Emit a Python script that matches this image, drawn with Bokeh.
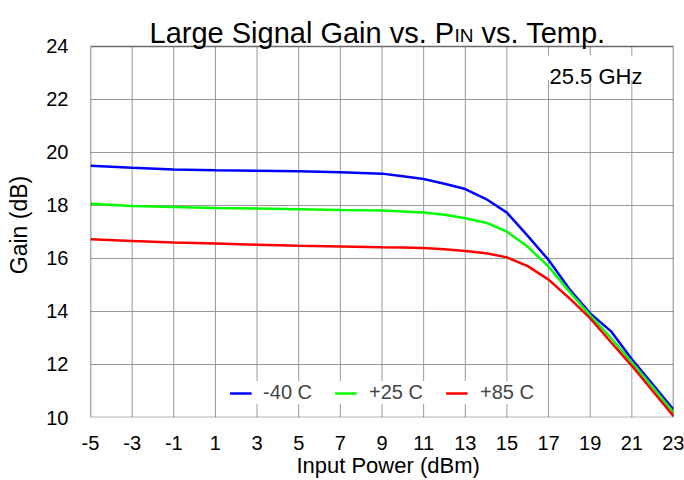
from bokeh.plotting import figure
from bokeh.models import Label, BoxAnnotation, Legend, LegendItem, FixedTicker, Range1d
from bokeh.embed import file_html
from bokeh.resources import INLINE

# ---- data ----
pin_dbm = [-5, -3, -1, 1, 3, 5, 7, 9, 10, 11, 12, 13, 14, 15, 16, 17, 18, 19, 20, 21, 22, 23]
gain_m40 = [19.50, 19.42, 19.36, 19.33, 19.31, 19.29, 19.25, 19.20, 19.10, 19.00, 18.82, 18.62,
            18.24, 17.73, 16.85, 15.94, 14.85, 13.93, 13.25, 12.20, 11.25, 10.30]
gain_p25 = [18.06, 17.98, 17.94, 17.90, 17.88, 17.86, 17.83, 17.81, 17.77, 17.73, 17.65, 17.52,
            17.35, 17.01, 16.44, 15.69, 14.75, 13.85, 13.00, 12.08, 11.15, 10.18]
gain_p85 = [16.72, 16.66, 16.60, 16.56, 16.52, 16.48, 16.45, 16.42, 16.41, 16.39, 16.35, 16.28,
            16.20, 16.04, 15.71, 15.20, 14.50, 13.74, 12.84, 11.95, 11.00, 10.05]
series_labels = ["-40 C", "+25 C", "+85 C"]
x_ticks = [-5, -3, -1, 1, 3, 5, 7, 9, 11, 13, 15, 17, 19, 21, 23]
y_ticks = [10, 12, 14, 16, 18, 20, 22, 24]

FONT = "Liberation Sans"
NBSP = "\u00a0"

X_MIN, X_MAX = -5, 23
Y_MIN, Y_MAX = 10, 24
FRAME_H = 418          # px: plot frame extends up to the top of the canvas (title lives inside)
AXIS_H = 372           # px: height of the 10..24 dB axis box
Y_TOP = Y_MIN + (Y_MAX - Y_MIN) * FRAME_H / AXIS_H

p = figure(width=684, height=480, output_backend="svg", toolbar_location=None, title=None,
           x_range=Range1d(X_MIN, X_MAX), y_range=Range1d(Y_MIN, Y_TOP),
           min_border_left=90, min_border_right=11, min_border_top=0, min_border_bottom=62)
p.background_fill_color = "white"
p.border_fill_color = "white"
p.outline_line_color = None

for ax in (p.xaxis[0], p.yaxis[0]):
    ax.axis_line_color = None
    ax.major_tick_line_color = None
    ax.minor_tick_line_color = None
    ax.major_label_text_font = FONT
    ax.major_label_text_font_size = "20px"
    ax.major_label_text_color = "black"
    ax.axis_label_text_font = FONT
    ax.axis_label_text_font_style = "normal"
    ax.axis_label_text_color = "black"

p.yaxis.bounds = (Y_MIN, Y_MAX)
p.xaxis.ticker = FixedTicker(ticks=x_ticks)
p.yaxis.ticker = FixedTicker(ticks=y_ticks)
p.xaxis.major_label_overrides = {t: str(t) for t in x_ticks}
p.yaxis.major_label_overrides = {t: str(t) for t in y_ticks}
p.xaxis.major_label_standoff = 12
p.yaxis.major_label_standoff = 16
p.xaxis.axis_label = NBSP * 2 + "Input Power (dBm)"
p.yaxis.axis_label = "Gain (dB)" + NBSP * 5
p.xaxis.axis_label_text_font_size = "22px"
p.yaxis.axis_label_text_font_size = "23px"
p.xaxis.axis_label_standoff = 0
p.yaxis.axis_label_standoff = 11

# grid: horizontal lines natively, vertical lines limited to the axis box
p.xgrid.visible = False
p.ygrid.ticker = FixedTicker(ticks=y_ticks)
p.ygrid.grid_line_color = "#999999"
p.ygrid.grid_line_width = 1
p.segment(x0=x_ticks, y0=[Y_MIN] * len(x_ticks), x1=x_ticks, y1=[Y_MAX] * len(x_ticks),
          line_color="#999999", line_width=1)

r1 = p.line(pin_dbm, gain_m40, line_color="#0000FF", line_width=2.5)
r2 = p.line(pin_dbm, gain_p25, line_color="#00FF00", line_width=2.5)
r3 = p.line(pin_dbm, gain_p85, line_color="#FF0000", line_width=2.5)

legend = Legend(items=[LegendItem(label=series_labels[0], renderers=[r1]),
                       LegendItem(label=series_labels[1], renderers=[r2]),
                       LegendItem(label=series_labels[2], renderers=[r3])],
                location="bottom_center", orientation="horizontal",
                background_fill_color="white", background_fill_alpha=1.0,
                border_line_color=None, label_text_font=FONT, label_text_font_size="20px",
                glyph_width=22, glyph_height=22, label_height=22,
                label_standoff=12, spacing=23, margin=13, padding=18)
p.add_layout(legend, "center")

# frequency annotation box
p.add_layout(BoxAnnotation(left=16.6, right=21.8, bottom=22.72, top=23.66,
                           fill_color="white", fill_alpha=1.0, line_color=None))
p.add_layout(Label(x=459, y=341, x_units="screen", y_units="screen", text="25.5 GHz",
                   text_font=FONT, text_font_size="22px", text_color="black",
                   text_baseline="alphabetic"))

# black frame around the 10..24 dB axis box
p.add_layout(BoxAnnotation(left=X_MIN, right=X_MAX, bottom=Y_MIN, top=Y_MAX,
                           fill_alpha=0.0, line_color="black", line_width=2))

# title with subscript (inside the extended frame)
p.add_layout(Label(x=59, y=385, x_units="screen", y_units="screen",
                   text="Large Signal Gain vs. P", text_font=FONT, text_font_size="29px",
                   text_color="black", text_baseline="alphabetic"))
p.add_layout(Label(x=364, y=382, x_units="screen", y_units="screen",
                   text="IN", text_font=FONT, text_font_size="19px",
                   text_color="black", text_baseline="alphabetic"))
p.add_layout(Label(x=383, y=385, x_units="screen", y_units="screen",
                   text=NBSP + "vs. Temp.", text_font=FONT, text_font_size="29px",
                   text_color="black", text_baseline="alphabetic"))

open("out.html", "w").write(file_html(p, INLINE))
